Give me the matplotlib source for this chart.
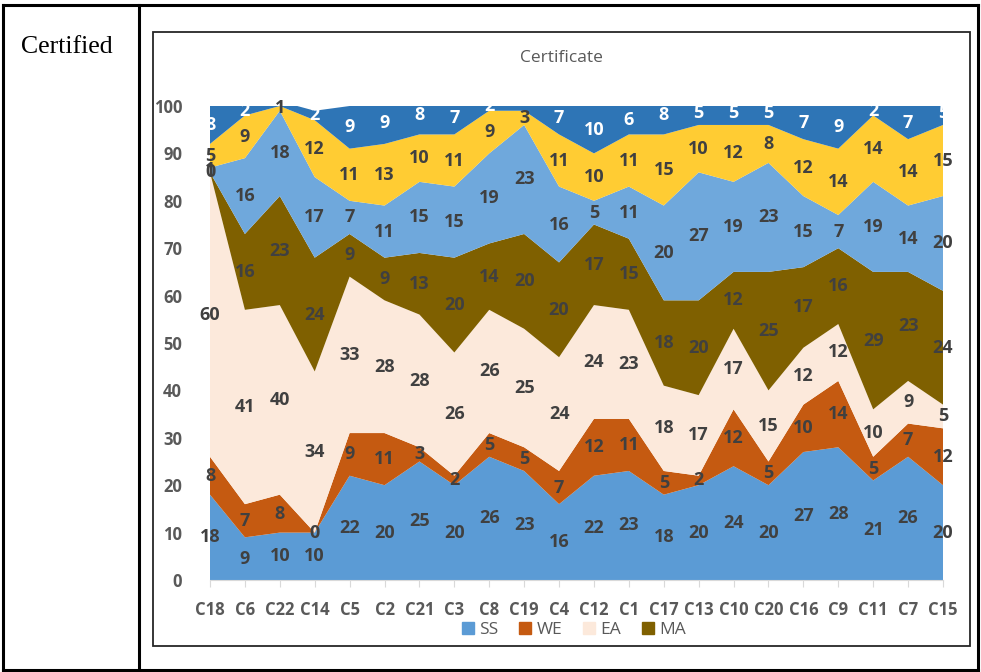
import matplotlib
matplotlib.use("Agg")
import matplotlib.pyplot as plt
from matplotlib.patches import Rectangle
from matplotlib.lines import Line2D
import numpy as np

categories = ["C18", "C6", "C22", "C14", "C5", "C2", "C21", "C3", "C8", "C19", "C4",
              "C12", "C1", "C17", "C13", "C10", "C20", "C16", "C9", "C11", "C7", "C15"]

ss = [18, 9, 10, 10, 22, 20, 25, 20, 26, 23, 16, 22, 23, 18, 20, 24, 20, 27, 28, 21, 26, 20]
we = [8, 7, 8, 0, 9, 11, 3, 2, 5, 5, 7, 12, 11, 5, 2, 12, 5, 10, 14, 5, 7, 12]
ea = [60, 41, 40, 34, 33, 28, 28, 26, 26, 25, 24, 24, 23, 18, 17, 17, 15, 12, 12, 10, 9, 5]
ma = [0, 16, 23, 24, 9, 9, 13, 20, 14, 20, 20, 17, 15, 18, 20, 12, 25, 17, 16, 29, 23, 24]
s5 = [1, 16, 18, 17, 7, 11, 15, 15, 19, 23, 16, 5, 11, 20, 27, 19, 23, 15, 7, 19, 14, 20]
s6 = [5, 9, 1, 12, 11, 13, 10, 11, 9, 3, 11, 10, 11, 15, 10, 12, 8, 12, 14, 14, 14, 15]
s7 = [8, 2, 1, 2, 9, 9, 8, 7, 2, 3, 7, 10, 6, 8, 5, 5, 5, 7, 9, 2, 7, 5]

series = [ss, we, ea, ma, s5, s6, s7]
legend_names = ["SS", "WE", "EA", "MA"]
colors = ["#5B9BD5", "#C55A11", "#FCE9DB", "#7F6000", "#6FA8DC", "#FFCC33", "#2E75B6"]
label_colors = ["#404040"] * 6 + ["white"]

W, H = 981, 672
fig = plt.figure(figsize=(W / 100, H / 100), dpi=100)
fig.patch.set_facecolor("white")


def fx(px):
    return px / W


def fy(py):
    return 1 - py / H


# Table frame around the chart
lw = 2.2
for (x0, y0, x1, y1) in [(3, 5, 978, 5), (3, 5, 3, 670), (978, 5, 978, 670),
                         (3, 670, 978, 670), (139, 5, 139, 670)]:
    fig.add_artist(Line2D([fx(x0), fx(x1)], [fy(y0), fy(y1)], color="black",
                          lw=lw, transform=fig.transFigure))

fig.text(fx(21), fy(47), "Certified", family="Liberation Serif", fontsize=18.5,
         ha="left", va="center", color="black")

# Chart box
fig.add_artist(Rectangle((fx(153), fy(646)), fx(970) - fx(153), fy(32) - fy(646),
                         transform=fig.transFigure, fill=False,
                         edgecolor="#262626", lw=1.3))
fig.text(fx(561), fy(58), "Certificate", fontsize=12.5, color="#595959",
         ha="center", va="center", family="Open Sans")

x0p, x1p = 210, 943
y0p, y1p = 580, 106
ax = fig.add_axes([fx(x0p), fy(y0p), fx(x1p) - fx(x0p), fy(y1p) - fy(y0p)])
x = np.arange(len(categories))

ax.stackplot(x, *series, colors=colors, linewidth=0)
ax.set_xlim(0, len(categories) - 1)
ax.set_ylim(0, 100)

# Segment labels at the middle of each band
cum = np.zeros(len(categories))
for vals, lc in zip(series, label_colors):
    vals = np.array(vals, dtype=float)
    mid = cum + vals / 2
    for i, (v, m) in enumerate(zip(vals, mid)):
        if m <= 100:
            ax.text(i, m, f"{int(v)}", ha="center", va="center", fontsize=13,
                    fontweight="bold", color=lc, family="Open Sans", clip_on=False)
    cum += vals

for s in ["top", "right", "left"]:
    ax.spines[s].set_visible(False)
ax.spines["bottom"].set_color("#D9D9D9")
ax.set_yticks(range(0, 101, 10))
ax.set_xticks(x)
ax.set_xticklabels(categories)
ax.tick_params(axis="y", length=0, pad=20, labelsize=12, labelcolor="#595959")
ax.tick_params(axis="x", length=5, color="#D9D9D9", pad=10, labelsize=12,
               labelcolor="#595959")
for lab in ax.get_xticklabels() + ax.get_yticklabels():
    lab.set_family("Open Sans")
    lab.set_fontweight("bold")

handles = [Rectangle((0, 0), 1, 1, color=c) for c in colors[:4]]
fig.legend(handles, legend_names, loc="center", bbox_to_anchor=(fx(574), fy(630)),
           ncol=4, frameon=False, handlelength=0.7, handleheight=0.7,
           handletextpad=0.3, columnspacing=1.2,
           prop={"family": "Open Sans", "size": 12.5})
for t in fig.legends[0].get_texts():
    t.set_color("#595959")

fig.savefig("out.png", dpi=100, facecolor="white")
